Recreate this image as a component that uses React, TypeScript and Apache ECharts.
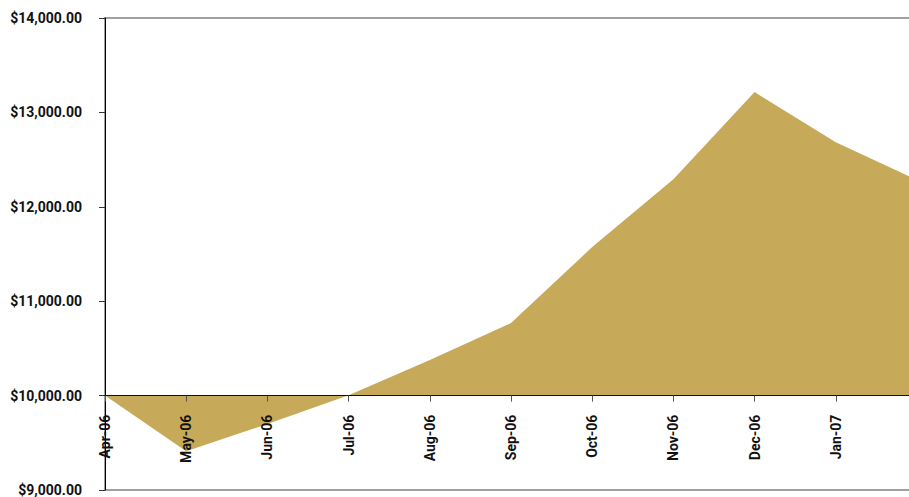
import React, { useEffect, useRef } from "react";
import * as echarts from "echarts";

const categories = ["Apr-06", "May-06", "Jun-06", "Jul-06", "Aug-06", "Sep-06", "Oct-06", "Nov-06", "Dec-06", "Jan-07", "Feb-07"];
const values = [10000, 9410, 9700, 10005, 10376, 10768, 11573, 12293, 13215, 12685, 12283];
const yMin = 9000;
const yMax = 14000;
const yStep = 1000;
const baseline = 10000;

const FONT = "'Liberation Sans Narrow', 'Roboto', sans-serif";

export default function App() {
  const ref = useRef<HTMLDivElement>(null);
  useEffect(() => {
    document.body.style.margin = "0";
    const chart = echarts.init(ref.current!, null, { renderer: "svg" });
    const gridTop = 18;
    const gridBottom = 7;
    const plotH = 497 - gridTop - gridBottom;
    const axisOffset = -((baseline - yMin) / (yMax - yMin)) * plotH;
    chart.setOption({
      animation: false,
      backgroundColor: "#ffffff",
      grid: {
        left: 105,
        right: -8,
        top: gridTop,
        bottom: gridBottom,
        containLabel: false,
        outerBoundsMode: "none",
        show: true,
        borderColor: "#a0a0a0",
        borderWidth: 2,
        backgroundColor: "transparent",
      },
      xAxis: {
        type: "category",
        data: categories,
        boundaryGap: false,
        position: "bottom",
        offset: axisOffset,
        axisLine: { show: true, lineStyle: { color: "#111", width: 1 } },
        axisTick: { show: true, length: 6, lineStyle: { color: "#555" } },
        axisLabel: {
          rotate: 90,
          margin: 19,
          fontFamily: FONT,
          fontWeight: "bold",
          fontSize: 14,
          color: "#111",
          interval: 0,
        },
        splitLine: { show: false },
        z: 5,
      },
      yAxis: {
        type: "value",
        min: yMin,
        max: yMax,
        interval: yStep,
        axisLine: { show: true, lineStyle: { color: "#000", width: 1 } },
        axisTick: { show: true, length: 6, lineStyle: { color: "#333" } },
        splitLine: { show: false },
        axisLabel: {
          margin: 23,
          fontFamily: FONT,
          fontWeight: "bold",
          fontSize: 14,
          color: "#111",
          formatter: (v: number) =>
            "$" + v.toLocaleString("en-US", { minimumFractionDigits: 2, maximumFractionDigits: 2 }),
        },
      },
      series: [
        {
          type: "line",
          data: values,
          symbol: "none",
          lineStyle: { width: 0, color: "#C7AA59" },
          areaStyle: { color: "#C7AA59", opacity: 1, origin: baseline },
          z: 2,
        },
      ],
    });
    return () => chart.dispose();
  }, []);
  return <div ref={ref} style={{ width: 909, height: 497 }} />;
}
